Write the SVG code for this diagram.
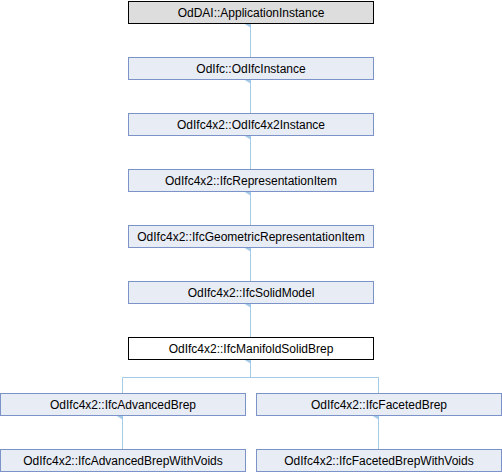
<svg xmlns="http://www.w3.org/2000/svg" width="502" height="472" viewBox="0 0 502 472">
<defs>
<style>
.n rect{fill:#e8ecf5;stroke:#7b93c9;stroke-width:1}
.n.g rect{fill:#dddddd;stroke:#000}
.n.h rect{fill:#fff;stroke:#000}
text{font-family:"Liberation Sans",Arial,sans-serif;font-size:12px;fill:#000;text-anchor:middle}
.e{fill:none;stroke:#a3cae6;stroke-width:1}
</style>
<marker id="a" markerWidth="8" markerHeight="8" refX="4" refY="6" orient="auto-start-reverse" markerUnits="userSpaceOnUse" viewBox="0 0 8 8">
<path d="M1,6 L4,1 L7,6 Z" fill="#a3cae6" stroke="#a3cae6"/>
</marker>
</defs>
<g id="edges">
<path class="e" d="M250.5,57 V24" marker-end="url(#a)"/>
<path class="e" d="M250.5,113 V80" marker-end="url(#a)"/>
<path class="e" d="M250.5,169 V136" marker-end="url(#a)"/>
<path class="e" d="M250.5,225 V192" marker-end="url(#a)"/>
<path class="e" d="M250.5,281 V248" marker-end="url(#a)"/>
<path class="e" d="M250.5,337 V304" marker-end="url(#a)"/>
<path class="e" d="M250.5,377 V360" marker-end="url(#a)"/>
<path class="e" d="M122.5,393 V377.5 H378.5 V393"/>
<path class="e" d="M122.5,449 V416" marker-end="url(#a)"/>
<path class="e" d="M378.5,449 V416" marker-end="url(#a)"/>
</g>
<g id="n1" class="n g"><rect x="128.5" y="1.5" width="245" height="22"/><text x="251" y="17">OdDAI::ApplicationInstance</text></g>
<g id="n2" class="n"><rect x="128.5" y="57.5" width="245" height="22"/><text x="251" y="73">OdIfc::OdIfcInstance</text></g>
<g id="n3" class="n"><rect x="128.5" y="113.5" width="245" height="22"/><text x="251" y="129">OdIfc4x2::OdIfc4x2Instance</text></g>
<g id="n4" class="n"><rect x="128.5" y="169.5" width="245" height="22"/><text x="251" y="185">OdIfc4x2::IfcRepresentationItem</text></g>
<g id="n5" class="n"><rect x="128.5" y="225.5" width="245" height="22"/><text x="251" y="241">OdIfc4x2::IfcGeometricRepresentationItem</text></g>
<g id="n6" class="n"><rect x="128.5" y="281.5" width="245" height="22"/><text x="251" y="297">OdIfc4x2::IfcSolidModel</text></g>
<g id="n7" class="n h"><rect x="128.5" y="337.5" width="245" height="22"/><text x="251" y="353">OdIfc4x2::IfcManifoldSolidBrep</text></g>
<g id="n8" class="n"><rect x="0.5" y="393.5" width="245" height="22"/><text x="123" y="409">OdIfc4x2::IfcAdvancedBrep</text></g>
<g id="n9" class="n"><rect x="256.5" y="393.5" width="245" height="22"/><text x="379" y="409">OdIfc4x2::IfcFacetedBrep</text></g>
<g id="n10" class="n"><rect x="0.5" y="449.5" width="245" height="22"/><text x="123" y="465">OdIfc4x2::IfcAdvancedBrepWithVoids</text></g>
<g id="n11" class="n"><rect x="256.5" y="449.5" width="245" height="22"/><text x="379" y="465">OdIfc4x2::IfcFacetedBrepWithVoids</text></g>
</svg>
